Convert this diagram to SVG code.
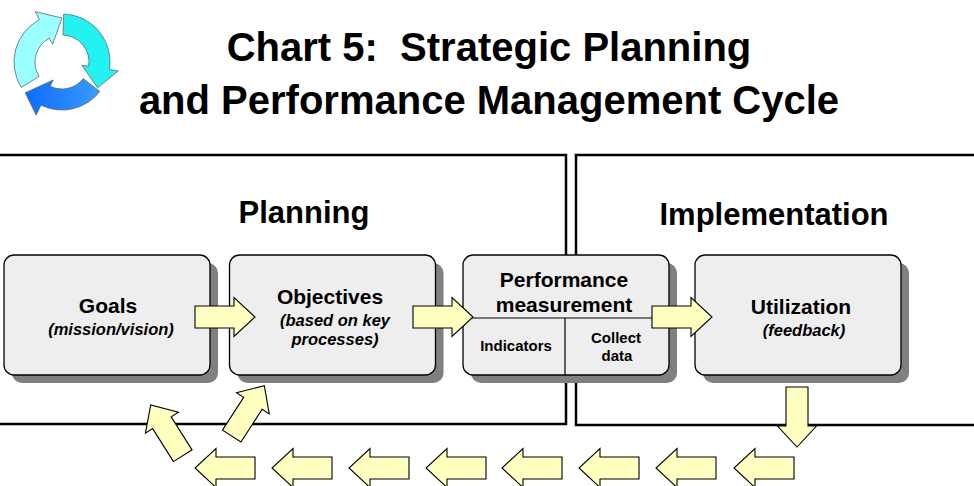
<svg xmlns="http://www.w3.org/2000/svg" xmlns:xlink="http://www.w3.org/1999/xlink" width="974" height="486" viewBox="0 0 974 486">
<style>
  .title{font-family:"Liberation Sans",Arial,sans-serif;font-weight:bold;font-size:40px;fill:#000;text-anchor:middle;white-space:pre}
  .panel{fill:none;stroke:#000;stroke-width:2.5}
  .ptitle{font-family:"Liberation Sans",Arial,sans-serif;font-weight:bold;font-size:31px;fill:#000;text-anchor:middle}
  .box{fill:#EEEEEE;stroke:#000;stroke-width:1.3}
  .shadow{fill:#808080}
  .div{stroke:#000;stroke-width:1.2;fill:none}
  .h{font-family:"Liberation Sans",Arial,sans-serif;font-weight:bold;font-size:21px;fill:#000;text-anchor:middle}
  .s{font-family:"Liberation Sans",Arial,sans-serif;font-weight:bold;font-style:italic;font-size:16.5px;fill:#000;text-anchor:middle}
  .c{font-family:"Liberation Sans",Arial,sans-serif;font-weight:bold;font-size:15px;fill:#000;text-anchor:middle}
  .arrow{fill:#FFFFC0;stroke:#000;stroke-width:1.1;stroke-linejoin:miter}
  .ico{stroke:#5a6a70;stroke-width:0.8;stroke-linejoin:round}
</style>
<defs>
  <path id="arw" d="M-60,-11 H-21 V-19.5 L0,0 L-21,19.5 V11 H-60 Z"/>
  <linearGradient id="blueg" x1="0" y1="0" x2="1" y2="0">
    <stop offset="0" stop-color="#0A6CFF"/>
    <stop offset="1" stop-color="#3A9CFF"/>
  </linearGradient>
</defs>

<g id="logo">
  <path class="ico" fill="#99FFFF" d="M21.30,87.44 A48,48 0 0 1 39.46,19.62 L35.24,11.67 L62,18 L52.61,44.34 L49.32,38.16 A27,27 0 0 0 39.10,76.31 Z"/>
  <path class="ico" fill="url(#blueg)" d="M99.83,91.55 A48,48 0 0 1 40.96,105.14 L36.13,115.03 L25.23,92.85 L53.23,79.98 L50.16,86.27 A27,27 0 0 0 83.28,78.62 Z"/>
  <path class="ico" fill="#22F2F2" d="M63.68,14.03 A48,48 0 0 1 109.41,69.51 L118.30,70.92 L97.60,87.86 L81.75,65.13 L88.67,66.22 A27,27 0 0 0 62.94,35.02 Z"/>
</g>

<g id="title">
  <text class="title" x="489" y="61" xml:space="preserve">Chart 5:  Strategic Planning</text>
  <text class="title" x="489" y="114">and Performance Management Cycle</text>
</g>

<g id="panel-planning">
  <rect class="panel" x="-10" y="155" width="576" height="269"/>
  <text class="ptitle" x="304" y="223">Planning</text>
</g>
<g id="panel-implementation">
  <rect class="panel" x="576" y="155" width="410" height="270"/>
  <text class="ptitle" x="774" y="225">Implementation</text>
</g>

<g id="node-goals">
  <rect class="shadow" x="12" y="263" width="206" height="120" rx="10"/>
  <rect class="box" x="4" y="255" width="206" height="120" rx="10"/>
  <text class="h" x="108" y="313">Goals</text>
  <text class="s" x="111" y="335">(mission/vision)</text>
</g>

<g id="node-objectives">
  <rect class="shadow" x="237.5" y="263" width="206" height="120" rx="10"/>
  <rect class="box" x="229.5" y="255" width="206" height="120" rx="10"/>
  <text class="h" x="330" y="304">Objectives</text>
  <text class="s" x="335" y="326">(based on key</text>
  <text class="s" x="335" y="345">processes)</text>
</g>

<g id="node-performance">
  <rect class="shadow" x="471" y="263" width="206" height="120" rx="10"/>
  <rect class="box" x="463" y="255" width="206" height="120" rx="10"/>
  <line class="div" x1="463" y1="318" x2="669" y2="318"/>
  <line class="div" x1="565" y1="318" x2="565" y2="375"/>
  <text class="h" x="564" y="287">Performance</text>
  <text class="h" x="564" y="312">measurement</text>
  <text class="c" x="516" y="351">Indicators</text>
  <text class="c" x="616" y="343">Collect</text>
  <text class="c" x="617" y="361">data</text>
</g>

<g id="node-utilization">
  <rect class="shadow" x="703" y="263" width="206" height="120" rx="10"/>
  <rect class="box" x="695" y="255" width="206" height="120" rx="10"/>
  <text class="h" x="801" y="314">Utilization</text>
  <text class="s" x="804" y="336">(feedback)</text>
</g>

<g id="connectors">
  <use class="arrow" xlink:href="#arw" href="#arw" transform="translate(255,317)"/>
  <use class="arrow" xlink:href="#arw" href="#arw" transform="translate(473,317)"/>
  <use class="arrow" xlink:href="#arw" href="#arw" transform="translate(712,317)"/>
  <use class="arrow" xlink:href="#arw" href="#arw" transform="translate(797,447) rotate(90)"/>
  <use class="arrow" xlink:href="#arw" href="#arw" transform="translate(734,468) rotate(180)"/>
  <use class="arrow" xlink:href="#arw" href="#arw" transform="translate(656,468) rotate(180)"/>
  <use class="arrow" xlink:href="#arw" href="#arw" transform="translate(579,468) rotate(180)"/>
  <use class="arrow" xlink:href="#arw" href="#arw" transform="translate(502,468) rotate(180)"/>
  <use class="arrow" xlink:href="#arw" href="#arw" transform="translate(426,468) rotate(180)"/>
  <use class="arrow" xlink:href="#arw" href="#arw" transform="translate(349,468) rotate(180)"/>
  <use class="arrow" xlink:href="#arw" href="#arw" transform="translate(272,468) rotate(180)"/>
  <use class="arrow" xlink:href="#arw" href="#arw" transform="translate(195,468) rotate(180)"/>
  <use class="arrow" xlink:href="#arw" href="#arw" transform="translate(150.7,405) rotate(-122.3)"/>
  <use class="arrow" xlink:href="#arw" href="#arw" transform="translate(264.3,385.7) rotate(-57.1)"/>
</g>
</svg>
